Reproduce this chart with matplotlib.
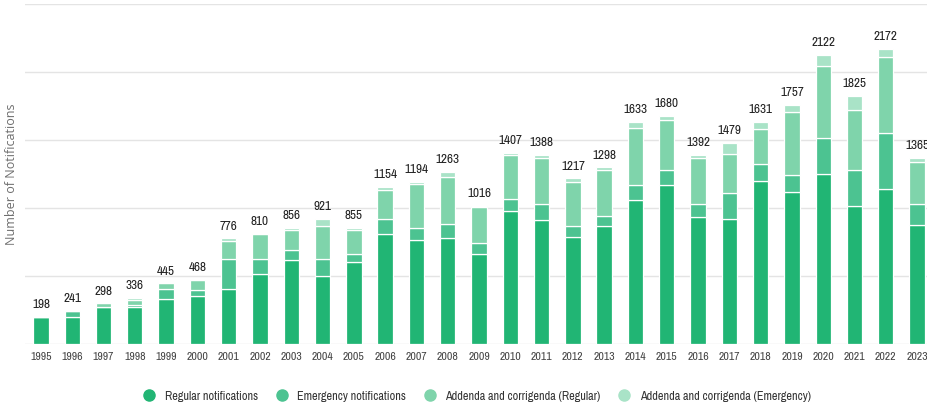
import numpy as np
import matplotlib.pyplot as plt
from matplotlib import font_manager

years = [str(y) for y in range(1995, 2024)]

regular = [198, 200, 270, 272, 330, 350, 404, 517, 620, 502, 601, 808, 768, 783,
           665, 977, 911, 785, 867, 1057, 1167, 936, 916, 1202, 1118, 1248, 1014, 1143, 874]
emergency = [0, 41, 0, 12, 78, 49, 224, 109, 74, 123, 64, 109, 86, 101,
             79, 92, 116, 79, 77, 111, 113, 93, 192, 118, 123, 264, 264, 406, 153]
addenda_regular = [0, 0, 28, 40, 37, 69, 128, 184, 143, 246, 172, 214, 320, 347,
                   264, 320, 338, 327, 332, 419, 369, 340, 288, 261, 468, 532, 443, 561, 308]
addenda_emergency = [0, 0, 0, 12, 0, 0, 20, 0, 19, 50, 18, 23, 20, 32,
                     8, 18, 23, 26, 22, 46, 31, 23, 83, 50, 48, 78, 104, 62, 30]
totals = [198, 241, 298, 336, 445, 468, 776, 810, 856, 921, 855, 1154, 1194, 1263,
          1016, 1407, 1388, 1217, 1298, 1633, 1680, 1392, 1479, 1631, 1757, 2122, 1825, 2172, 1365]

series = [
    ("Regular notifications", regular, "#21b574"),
    ("Emergency notifications", emergency, "#4cc391"),
    ("Addenda and corrigenda (Regular)", addenda_regular, "#7fd4ab"),
    ("Addenda and corrigenda (Emergency)", addenda_emergency, "#a9e3c7"),
]

# pick a narrow face if one is installed, otherwise Roboto
names = sorted({f.name for f in font_manager.fontManager.ttflist})
narrow_names = [n for n in names if "Narrow" in n or "Condensed" in n]
narrow = narrow_names[:1] + ["Roboto", "DejaVu Sans"]
stretch = "normal" if narrow_names else "condensed"

fig = plt.figure(figsize=(9.28, 4.09), dpi=100)
ax = fig.add_axes([25 / 928, 65 / 409, 1 - 25 / 928, 340 / 409])

x = np.arange(len(years))
bottom = np.zeros(len(years))
handles = []
for name, vals, color in series:
    vals = np.array(vals, dtype=float)
    ax.bar(x, vals, 0.49, bottom=bottom, color=color, edgecolor="white", linewidth=0.9, zorder=3)
    bottom += vals
    handles.append(plt.Line2D([], [], marker="o", linestyle="none", markersize=8,
                              markerfacecolor=color, markeredgecolor=color, label=name))

for xi, t in zip(x, totals):
    ax.annotate(str(t), (xi, t), xytext=(0, 5), textcoords="offset points",
                ha="center", va="bottom", fontsize=9.5, family=narrow, stretch=stretch,
                color="#222222")

ax.set_ylim(0, 2500)
ax.set_xlim(-0.51, len(years) - 0.65)
ax.set_yticks(np.arange(0, 2501, 500))
ax.set_yticklabels([])
ax.tick_params(axis="y", length=0)
ax.grid(axis="y", color="#e4e4e4", linewidth=1, zorder=0)
ax.set_xticks(x)
ax.set_xticklabels(years, fontsize=8.5, family=narrow, stretch=stretch, color="#444444")
ax.tick_params(axis="x", length=0, pad=6)
for s in ax.spines.values():
    s.set_visible(False)

fig.text(12 / 928, 1 - 174 / 409, "Number of Notifications", rotation=90, ha="center",
         va="center", fontsize=9, family=["Open Sans", "DejaVu Sans"], color="#6e6e6e")

fig.legend(handles=handles, loc="center", bbox_to_anchor=(474 / 928, 1 - 396 / 409),
           ncol=4, frameon=False, handletextpad=0.3, columnspacing=0.9,
           prop={"family": narrow, "size": 8.8, "stretch": stretch, "weight": "bold"},
           labelcolor="#333333")

fig.savefig("out.png", dpi=100)
